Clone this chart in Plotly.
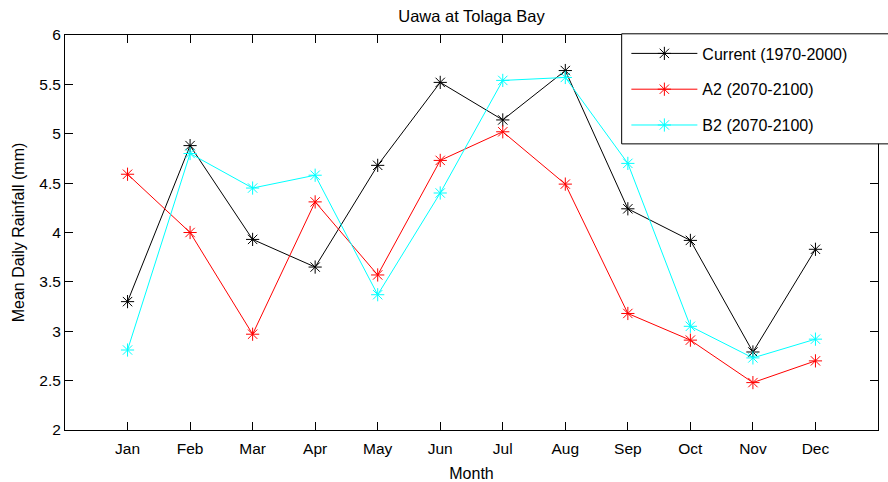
import plotly.graph_objects as go

months = ["Jan", "Feb", "Mar", "Apr", "May", "Jun", "Jul", "Aug", "Sep", "Oct", "Nov", "Dec"]
month_pos = list(range(1, 13))
current = [3.30, 4.88, 3.93, 3.65, 4.68, 5.52, 5.14, 5.64, 4.24, 3.92, 2.79, 3.83]
a2 = [4.59, 4.00, 2.97, 4.31, 3.57, 4.73, 5.02, 4.49, 3.18, 2.91, 2.48, 2.70]
b2 = [2.81, 4.80, 4.45, 4.58, 3.37, 4.40, 5.54, 5.57, 4.70, 3.05, 2.73, 2.92]
series_names = ["Current (1970-2000)", "A2 (2070-2100)", "B2 (2070-2100)"]
series_colors = ["#000000", "#ff0000", "#00ffff"]
y_ticks = [2, 2.5, 3, 3.5, 4, 4.5, 5, 5.5, 6]
y_tick_text = ["2", "2.5", "3", "3.5", "4", "4.5", "5", "5.5", "6"]

FONT = "Liberation Sans, Arial, Helvetica, sans-serif"
W, H = 888, 482
ML, MR, MT, MB = 64.5, 10.3, 34.5, 52

fig = go.Figure()
for i, (name, vals, col) in enumerate(zip(series_names, [current, a2, b2], series_colors)):
    fig.add_trace(go.Scatter(
        x=month_pos, y=vals, name=name, mode="lines+markers",
        line=dict(color=col, width=1),
        marker=dict(symbol="asterisk-open", size=11, color=col, line=dict(color=col, width=1)),
        legendgroup=f"g{i}",
    ))

pw = W - ML - MR
ph = H - MT - MB
def px_x(p):
    return (p - ML) / pw
def px_y(p):
    return 1 - (p - MT) / ph

# legend frame (extends past the right edge like in the reference)
fig.add_shape(type="rect", xref="paper", yref="paper",
              x0=px_x(621.3), x1=px_x(895), y0=px_y(143.5), y1=px_y(33.3),
              line=dict(color="black", width=1), fillcolor="white", layer="above")

fig.update_layout(
    width=W, height=H,
    margin=dict(l=ML, r=MR, t=MT, b=MB, pad=0, autoexpand=False),
    paper_bgcolor="white", plot_bgcolor="white",
    font=dict(family=FONT, size=16, color="black"),
    title=dict(text="Uawa at Tolaga Bay", x=0.5, xref="paper", xanchor="center",
               y=1 - 16 / H, yanchor="middle", font=dict(size=16.5)),
    showlegend=True,
    legend=dict(x=px_x(626), y=px_y(36), xanchor="left", yanchor="top",
                bgcolor="rgba(0,0,0,0)", borderwidth=0,
                font=dict(size=16), traceorder="grouped", tracegroupgap=12,
                itemwidth=66),
    xaxis=dict(range=[0, 13], tickvals=month_pos, ticktext=months,
               showgrid=False, zeroline=False, showline=True, linecolor="black", linewidth=1,
               mirror="ticks", ticks="inside", ticklen=8, tickcolor="black",
               ticklabelstandoff=4, automargin=False,
               title=dict(text="Month", standoff=12, font=dict(size=16)), tickfont=dict(size=15.5)),
    yaxis=dict(range=[2, 6], tickvals=y_ticks, ticktext=y_tick_text,
               showgrid=False, zeroline=False, showline=True, linecolor="black", linewidth=1,
               mirror="ticks", ticks="inside", ticklen=8, tickcolor="black",
               automargin=False,
               title=dict(text="Mean Daily Rainfall (mm)", standoff=10, font=dict(size=16)),
               tickfont=dict(size=15.5)),
)

fig.write_html("out.html")
